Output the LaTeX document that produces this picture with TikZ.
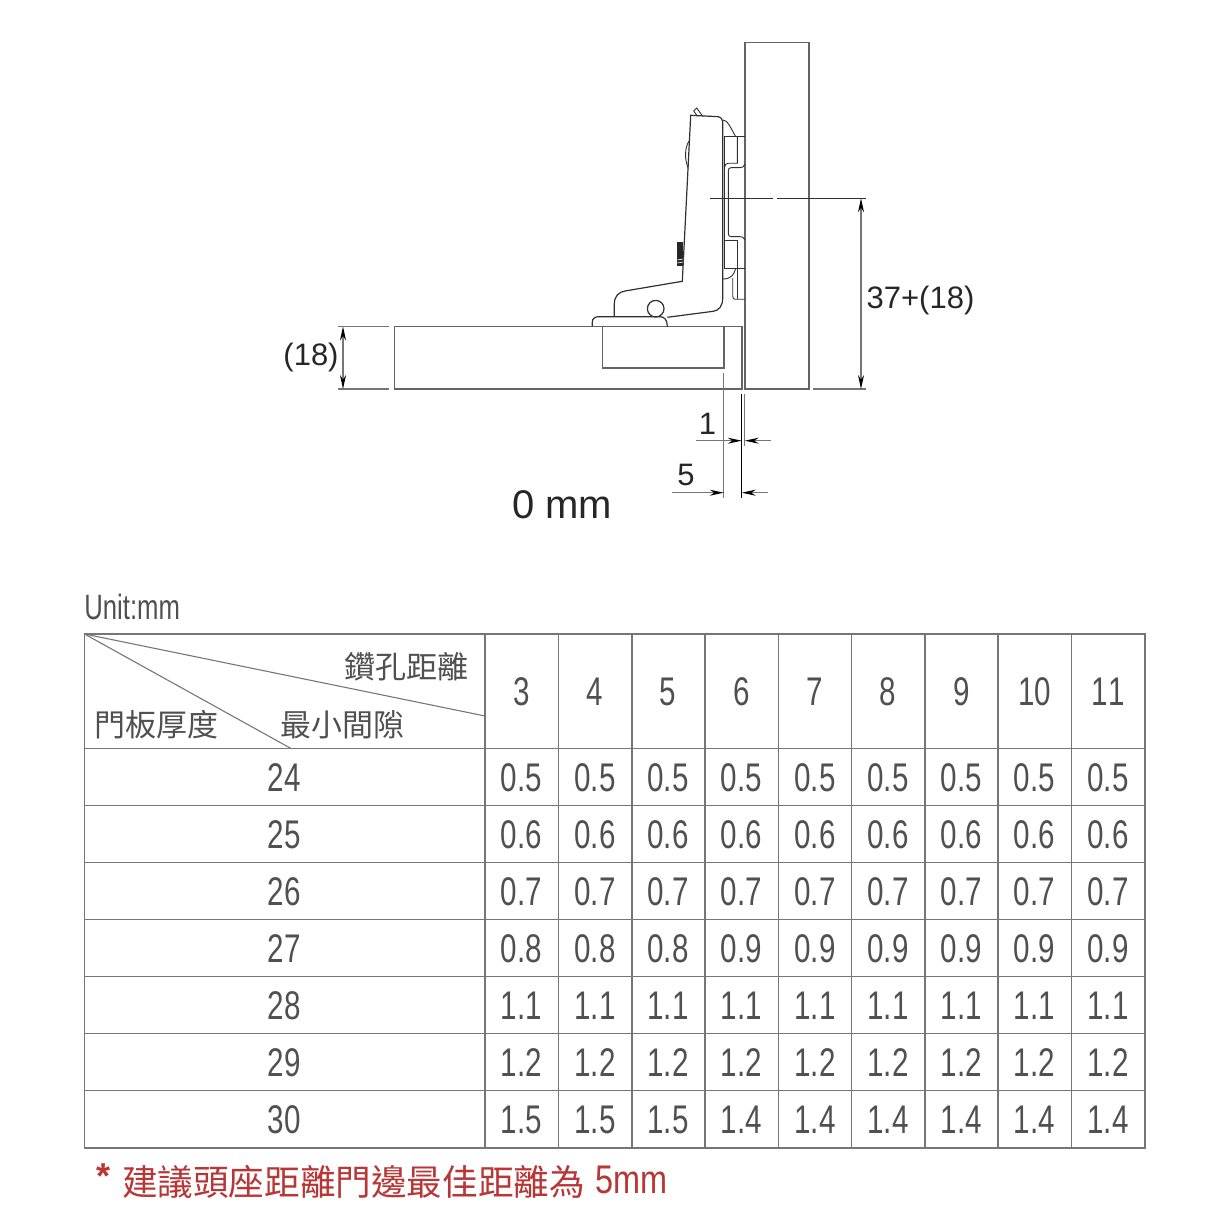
\documentclass[tikz,border=0pt]{standalone}
\usepackage{fontspec}
\usetikzlibrary{arrows.meta}
\setmainfont{Liberation Sans}
\newfontfamily\cjk{Noto Sans CJK TC}
\newfontfamily\numfont[FakeStretch=0.74,Kerning=Off]{Liberation Sans}
\newfontfamily\unitfont[FakeStretch=0.73]{Liberation Sans}
\newfontfamily\redfont[FakeStretch=0.81]{Liberation Sans}
\definecolor{Grid}{HTML}{767676}
\definecolor{Ink}{HTML}{505050}
\definecolor{Hinge}{HTML}{303030}
\definecolor{Note}{HTML}{B83636}
\tikzset{
  part/.style={line width=0.7pt, color=Grid!85!black},
  arm/.style={line width=0.6pt, color=Hinge},
  plate/.style={line width=0.45pt, color=Hinge},
  dimline/.style={line width=0.55pt, color=Grid},
  dimarrow/.style={dimline, {Stealth[length=7pt,width=3pt,color=black]}-{Stealth[length=7pt,width=3pt,color=black]}},
  dimtip/.style={dimline, -{Stealth[length=7pt,width=3pt,color=black]}},
  dimlabel/.style={inner sep=0pt, font=\fontsize{15.5}{18}\selectfont, color=black!85},
  gridline/.style={line width=0.55pt, color=Grid},
  val/.style={inner sep=0pt, color=Ink, font=\numfont\fontsize{20}{24}\selectfont},
  head/.style={inner sep=0pt, color=Ink, font=\cjk\fontsize{15.5}{18}\selectfont},
}
\begin{document}
\begin{tikzpicture}[x=0.5pt, y=-0.5pt]
 \useasboundingbox (0,0) rectangle (1229,1229);

 %%%%%%%%%% Door and cabinet side %%%%%%%%%%
 \coordinate (door1) at (394.5,326.5);
 \coordinate (door2) at (742,389);
 \coordinate (side1) at (745,42.5);
 \coordinate (side2) at (809,389);
 \coordinate (cup1) at (602.5,326.5);
 \coordinate (cup2) at (724,368);
 \draw [part] (door1) rectangle (door2);
 \draw [part] (side1) rectangle (side2);
 \draw [part] (cup1) rectangle (cup2);

 %%%%%%%%%% Hinge arm %%%%%%%%%%
 \draw [arm] (614.3,316.7) -- (614.3,304) .. controls (614.3,296) and (619,292) .. (625,291)
   -- (682.3,281.3) -- (690.7,115.3) -- (718.3,116.7) .. controls (721,117) and (722.7,119) .. (722.7,122)
   -- (722.7,298) .. controls (722.7,306) and (719,310.5) .. (713.3,311.3) -- (667.3,317.3);
 \draw [arm] (592.3,326.5) -- (592.3,322) .. controls (592.3,318.5) and (595,316.7) .. (598.5,316.7)
   -- (660,316.7) .. controls (664.5,316.7) and (667.3,320) .. (667.3,326.5);
 \draw [arm] (655.7,308.7) circle (8.3);
 \draw [plate] (693.7,111) -- (696.7,108) -- (702.7,116.3);
 \draw [plate] (697.5,116.3) -- (693.7,111);
 \draw [plate] (689,141) .. controls (684.5,148) and (684.5,160) .. (688.3,168.3);
 \fill [color=black!85] (677.3,241.7) rectangle (683.3,265.7);
 \draw [white, line width=0.3pt] (677.3,260) -- (683.3,259);
 \draw [white, line width=0.3pt] (677.3,263) -- (683.3,262);

 %%%%%%%%%% Mounting plate %%%%%%%%%%
 \draw [plate] (722.7,120) .. controls (727,121) and (728,123) .. (729.5,125.5) -- (735.7,136.7);
 \draw [plate] (745,136.3) -- (724.7,136.3) -- (724.7,268.3) -- (745,268.3);
 \draw [plate] (737.3,136.3) -- (737.3,163.3) -- (728,163.3) .. controls (726,163.3) and (724.7,165) .. (724.7,167);
 \draw [plate] (745,164) .. controls (744,167) and (742,167.7) .. (740,167.7) -- (731,167.7)
   .. controls (729,167.7) and (728.3,169) .. (728.3,171) -- (728.3,233)
   .. controls (728.3,235.5) and (729,236.7) .. (731,236.7) -- (740,236.7)
   .. controls (742,236.7) and (744,237) .. (745,240);
 \draw [plate] (724.7,240.7) -- (737.3,240.7) -- (737.3,268.3);
 \draw [plate] (735.7,268.3) .. controls (734,275) and (731,279) .. (722.7,279);
 \draw [plate] (732.7,278) -- (732.7,296) .. controls (732.7,298) and (733.5,299.3) .. (735,299.3) -- (745,299.3);
 \draw [plate] (737.3,268.3) -- (737.3,299.3);

 %%%%%%%%%% Dimensions %%%%%%%%%%
 \coordinate (a1) at (338,326.5);
 \coordinate (a2) at (389,326.5);
 \coordinate (a3) at (338,389);
 \coordinate (a4) at (389,389);
 \coordinate (a5) at (343,326.5);
 \coordinate (a6) at (343,389);
 \draw [dimline] (a1) -- (a2);
 \draw [dimline] (a3) -- (a4);
 \draw [dimarrow] (a5) -- (a6);

 \coordinate (b1) at (710,198.3);
 \coordinate (b2) at (773,198.3);
 \coordinate (b3) at (777,198.3);
 \coordinate (b4) at (866,198.3);
 \coordinate (b5) at (813,389);
 \coordinate (b6) at (866,389);
 \coordinate (b7) at (861,198.3);
 \coordinate (b8) at (861,389);
 \draw [dimline, color=Hinge] (b1) -- (b2);
 \draw [dimline, color=Hinge] (b3) -- (b4);
 \draw [dimline] (b5) -- (b6);
 \draw [dimarrow] (b7) -- (b8);

 \coordinate (c1) at (723.7,373);
 \coordinate (c2) at (723.7,498);
 \coordinate (c3) at (741.7,394);
 \coordinate (c4) at (741.7,498);
 \coordinate (c5) at (744.8,394);
 \coordinate (c6) at (744.8,446);
 \draw [dimline] (c1) -- (c2);
 \draw [dimline, color=black] (c3) -- (c4);
 \draw [dimline] (c5) -- (c6);

 \coordinate (d1) at (696,440.7);
 \coordinate (d2) at (741.7,440.7);
 \coordinate (d3) at (771,440.7);
 \coordinate (d4) at (744.8,440.7);
 \draw [dimtip] (d1) -- (d2);
 \draw [dimtip] (d3) -- (d4);

 \coordinate (e1) at (672,492.7);
 \coordinate (e2) at (723.7,492.7);
 \coordinate (e3) at (768,492.7);
 \coordinate (e4) at (741.7,492.7);
 \draw [dimtip] (e1) -- (e2);
 \draw [dimtip] (e3) -- (e4);

 \node (thick) [dimlabel] at (311,357) {(18)};
 \node (height) [dimlabel] at (920.5,300) {37+(18)};
 \node (gap) [dimlabel] at (707.5,424) {1};
 \node (edge) [dimlabel] at (686,475) {5};
 \node (title) [inner sep=0pt, color=black!85, font=\fontsize{20}{24}\selectfont] at (562,505) {0 mm};

 %%%%%%%%%% Table lines %%%%%%%%%%
 \draw [gridline] (84.5,634) rectangle (1145,1148);
 \draw [gridline] (84.5,748.5) -- (1145,748.5);
 \draw [gridline] (84.5,805.5) -- (1145,805.5);
 \draw [gridline] (84.5,862.5) -- (1145,862.5);
 \draw [gridline] (84.5,919.5) -- (1145,919.5);
 \draw [gridline] (84.5,976.5) -- (1145,976.5);
 \draw [gridline] (84.5,1033.5) -- (1145,1033.5);
 \draw [gridline] (84.5,1090.5) -- (1145,1090.5);
 \draw [gridline] (485,634) -- (485,1148);
 \draw [gridline] (558.5,634) -- (558.5,1148);
 \draw [gridline] (632,634) -- (632,1148);
 \draw [gridline] (705,634) -- (705,1148);
 \draw [gridline] (778.5,634) -- (778.5,1148);
 \draw [gridline] (851.5,634) -- (851.5,1148);
 \draw [gridline] (925,634) -- (925,1148);
 \draw [gridline] (998,634) -- (998,1148);
 \draw [gridline] (1071.5,634) -- (1071.5,1148);
 \draw [gridline] (84.5,634) -- (485,716);
 \draw [gridline] (84.5,634) -- (291,748.5);

 %%%%%%%%%% Table header %%%%%%%%%%
 \node (unit) [anchor=west, inner sep=0pt, color=Ink, font=\unitfont\fontsize{17.6}{22}\selectfont] at (84,607) {Unit:mm};
 \node (drill) [head] at (406,667) {鑽孔距離};
 \node (door) [head] at (156.5,725) {門板厚度};
 \node (mingap) [head] at (342.5,725) {最小間隙};
 \node (h3) [val] at (521.5,692) {3};
 \node (h4) [val] at (595,692) {4};
 \node (h5) [val] at (668,692) {5};
 \node (h6) [val] at (741.5,692) {6};
 \node (h7) [val] at (815,692) {7};
 \node (h8) [val] at (888,692) {8};
 \node (h9) [val] at (961.5,692) {9};
 \node (h10) [val] at (1034.5,692) {10};
 \node (h11) [val] at (1108,692) {11};

 %%%%%%%%%% Row 24 %%%%%%%%%%
 \node (r24) [val] at (284,778) {24};
 \node (r24c3) [val] at (521.5,778) {0.5};
 \node (r24c4) [val] at (595,778) {0.5};
 \node (r24c5) [val] at (668,778) {0.5};
 \node (r24c6) [val] at (741.5,778) {0.5};
 \node (r24c7) [val] at (815,778) {0.5};
 \node (r24c8) [val] at (888,778) {0.5};
 \node (r24c9) [val] at (961.5,778) {0.5};
 \node (r24c10) [val] at (1034.5,778) {0.5};
 \node (r24c11) [val] at (1108,778) {0.5};

 %%%%%%%%%% Row 25 %%%%%%%%%%
 \node (r25) [val] at (284,835) {25};
 \node (r25c3) [val] at (521.5,835) {0.6};
 \node (r25c4) [val] at (595,835) {0.6};
 \node (r25c5) [val] at (668,835) {0.6};
 \node (r25c6) [val] at (741.5,835) {0.6};
 \node (r25c7) [val] at (815,835) {0.6};
 \node (r25c8) [val] at (888,835) {0.6};
 \node (r25c9) [val] at (961.5,835) {0.6};
 \node (r25c10) [val] at (1034.5,835) {0.6};
 \node (r25c11) [val] at (1108,835) {0.6};

 %%%%%%%%%% Row 26 %%%%%%%%%%
 \node (r26) [val] at (284,892) {26};
 \node (r26c3) [val] at (521.5,892) {0.7};
 \node (r26c4) [val] at (595,892) {0.7};
 \node (r26c5) [val] at (668,892) {0.7};
 \node (r26c6) [val] at (741.5,892) {0.7};
 \node (r26c7) [val] at (815,892) {0.7};
 \node (r26c8) [val] at (888,892) {0.7};
 \node (r26c9) [val] at (961.5,892) {0.7};
 \node (r26c10) [val] at (1034.5,892) {0.7};
 \node (r26c11) [val] at (1108,892) {0.7};

 %%%%%%%%%% Row 27 %%%%%%%%%%
 \node (r27) [val] at (284,949) {27};
 \node (r27c3) [val] at (521.5,949) {0.8};
 \node (r27c4) [val] at (595,949) {0.8};
 \node (r27c5) [val] at (668,949) {0.8};
 \node (r27c6) [val] at (741.5,949) {0.9};
 \node (r27c7) [val] at (815,949) {0.9};
 \node (r27c8) [val] at (888,949) {0.9};
 \node (r27c9) [val] at (961.5,949) {0.9};
 \node (r27c10) [val] at (1034.5,949) {0.9};
 \node (r27c11) [val] at (1108,949) {0.9};

 %%%%%%%%%% Row 28 %%%%%%%%%%
 \node (r28) [val] at (284,1006) {28};
 \node (r28c3) [val] at (521.5,1006) {1.1};
 \node (r28c4) [val] at (595,1006) {1.1};
 \node (r28c5) [val] at (668,1006) {1.1};
 \node (r28c6) [val] at (741.5,1006) {1.1};
 \node (r28c7) [val] at (815,1006) {1.1};
 \node (r28c8) [val] at (888,1006) {1.1};
 \node (r28c9) [val] at (961.5,1006) {1.1};
 \node (r28c10) [val] at (1034.5,1006) {1.1};
 \node (r28c11) [val] at (1108,1006) {1.1};

 %%%%%%%%%% Row 29 %%%%%%%%%%
 \node (r29) [val] at (284,1063) {29};
 \node (r29c3) [val] at (521.5,1063) {1.2};
 \node (r29c4) [val] at (595,1063) {1.2};
 \node (r29c5) [val] at (668,1063) {1.2};
 \node (r29c6) [val] at (741.5,1063) {1.2};
 \node (r29c7) [val] at (815,1063) {1.2};
 \node (r29c8) [val] at (888,1063) {1.2};
 \node (r29c9) [val] at (961.5,1063) {1.2};
 \node (r29c10) [val] at (1034.5,1063) {1.2};
 \node (r29c11) [val] at (1108,1063) {1.2};

 %%%%%%%%%% Row 30 %%%%%%%%%%
 \node (r30) [val] at (284,1120) {30};
 \node (r30c3) [val] at (521.5,1120) {1.5};
 \node (r30c4) [val] at (595,1120) {1.5};
 \node (r30c5) [val] at (668,1120) {1.5};
 \node (r30c6) [val] at (741.5,1120) {1.4};
 \node (r30c7) [val] at (815,1120) {1.4};
 \node (r30c8) [val] at (888,1120) {1.4};
 \node (r30c9) [val] at (961.5,1120) {1.4};
 \node (r30c10) [val] at (1034.5,1120) {1.4};
 \node (r30c11) [val] at (1108,1120) {1.4};

 %%%%%%%%%% Note under the table %%%%%%%%%%
 \node (star) [anchor=west, inner sep=0pt, color=Note, font=\bfseries\fontsize{18}{22}\selectfont] at (96,1176) {*};
 \node (note) [inner sep=0pt, color=Note, font=\cjk\fontsize{17.8}{22}\selectfont] at (353.5,1182) {建議頭座距離門邊最佳距離為};
 \node (size) [anchor=east, inner sep=0pt, color=Note, font=\redfont\fontsize{20}{24}\selectfont] at (668,1180) {5mm};

\end{tikzpicture}
\end{document}
